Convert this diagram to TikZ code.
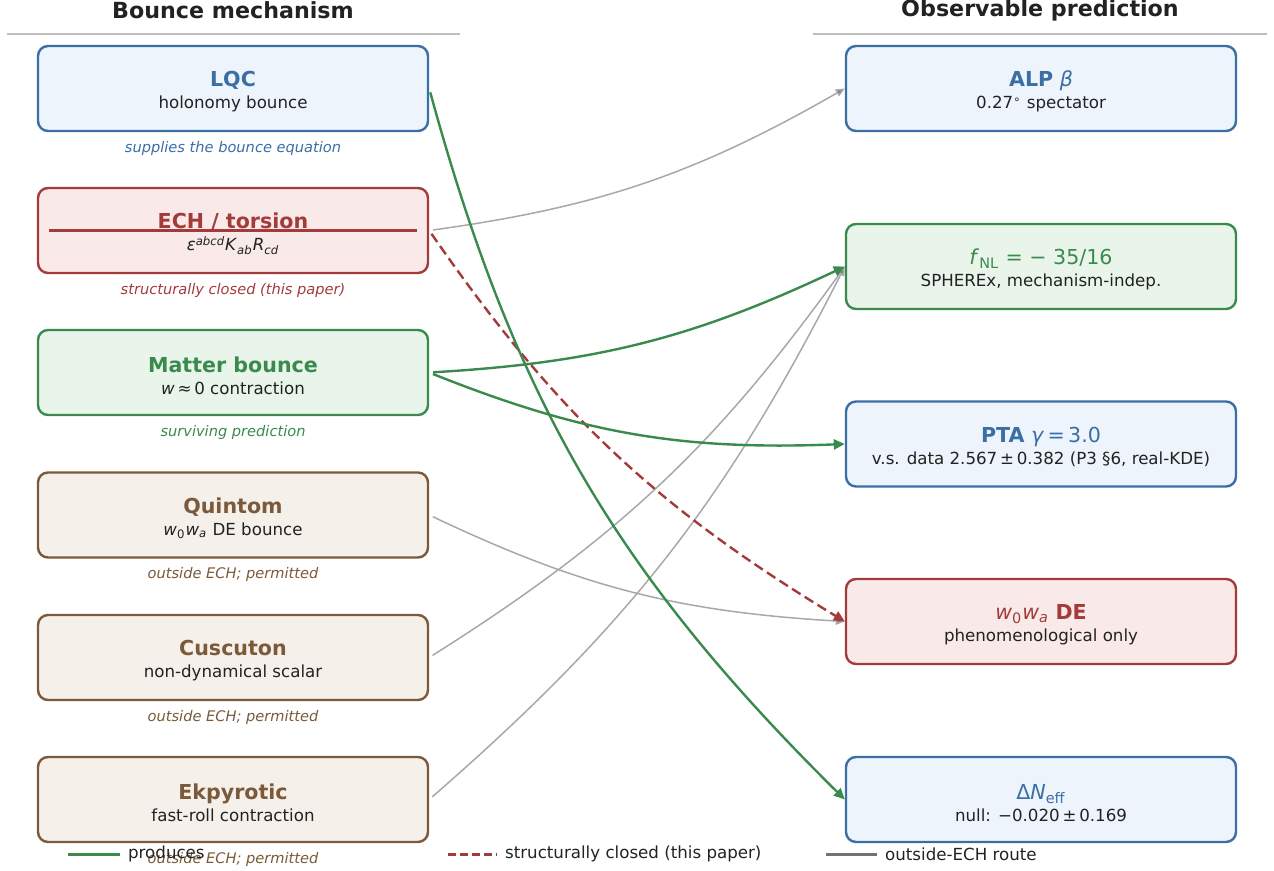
\documentclass[tikz,border=0pt]{standalone}
\usepackage{fontspec}
\setmainfont{DejaVu Sans}
\usetikzlibrary{arrows.meta,positioning}

\definecolor{ink}{HTML}{222222}
\definecolor{mblue}{HTML}{3B6EA5}\definecolor{mbluefill}{HTML}{EDF4FB}
\definecolor{mred}{HTML}{A33B3B}\definecolor{mredfill}{HTML}{F9E9E9}
\definecolor{mgreen}{HTML}{3A8A4E}\definecolor{mgreenfill}{HTML}{E9F4EA}
\definecolor{mbrown}{HTML}{7A5A3A}\definecolor{mbrownfill}{HTML}{F5F0EA}
\definecolor{route}{HTML}{A8A8A8}

\newcommand{\hfnt}{\fontsize{11.1}{13}\selectfont\bfseries}
\newcommand{\tfnt}{\fontsize{10.3}{12}\selectfont}
\newcommand{\sfnt}{\fontsize{8.33}{11}\selectfont}
\newcommand{\nfnt}{\fontsize{7.3}{9}\selectfont\itshape}
\newcommand{\boxttl}[2]{{\color{#1}\tfnt\rule{0pt}{11pt}#2}}

\tikzset{
  box/.style={draw=#1, fill=#1fill, rounded corners=5pt, line width=1.2pt,
    minimum width=195pt, minimum height=42.5pt, inner sep=0pt, align=center,
    font=\sfnt, text=ink},
  note/.style={font=\nfnt, text=#1},
  head/.style={font=\hfnt, text=ink},
  produces/.style={draw=mgreen, line width=1.2pt, -{Triangle[length=5.5pt,width=5pt]}},
  closed/.style={draw=mred, line width=1.2pt, dash pattern=on 5pt off 2.5pt, -{Triangle[length=5.5pt,width=5pt]}},
  outside/.style={draw=route, line width=0.75pt, -{Triangle[length=4.5pt,width=3.8pt,fill=gray]}},
}

\begin{document}
\begin{tikzpicture}[x=0.5pt,y=-0.5pt]
	\useasboundingbox (0,0) rectangle (1274,871);
	% column heads
		\node[head] (lhead) at (233,10) {Bounce mechanism};
		\node[head] (rhead) at (1040,10) {Observable prediction};
		\draw[color=black!25, line width=0.6pt] (7,34) -- (460,34);
		\draw[color=black!25, line width=0.6pt] (813,34) -- (1267,34);
	% bounce mechanisms
		\foreach \n/\y/\col/\ttl/\sub/\note in {
			lqc/88.5/mblue/{\textbf{LQC}}/{holonomy bounce}/{supplies the bounce equation},
			ech/230.5/mred/{\textbf{ECH / torsion}}/{\textit{ε}\textsuperscript{\textit{abcd}}\textit{K}\textsubscript{\textit{ab}}\textit{R}\textsubscript{\textit{cd}}}/{structurally closed (this paper)},
			matter/372.5/mgreen/{\textbf{Matter bounce}}/{\textit{w}\,≈\,0 contraction}/{surviving prediction},
			quintom/515/mbrown/{\textbf{Quintom}}/{\textit{w}\textsubscript{0}\textit{w}\textsubscript{\textit{a}} DE bounce}/{outside ECH; permitted},
			cuscuton/657.5/mbrown/{\textbf{Cuscuton}}/{non-dynamical scalar}/{outside ECH; permitted},
			ekpyrotic/799.5/mbrown/{\textbf{Ekpyrotic}}/{fast-roll contraction}/{outside ECH; permitted}}{
			\node[box=\col] (\n) at (233,\y) {\boxttl{\col}{\ttl}\\[0pt]\sub};
			\node[note=\col] (\n-note) at ([yshift=-8pt]\n.south) {\note};
			}
		\draw[mred, line width=1.2pt] ([xshift=6pt]ech.west) -- ([xshift=-6pt]ech.east);
	% observable predictions
		\foreach \n/\y/\col/\ttl/\sub in {
			alp/88.5/mblue/{\textbf{ALP} \textit{β}}/{0.27\textsuperscript{∘}\ spectator},
			fnl/266.5/mgreen/{\textit{f}\textsubscript{NL} = − 35/16}/{SPHEREx, mechanism-indep.},
			pta/444/mblue/{\textbf{PTA} \textit{γ}\,=\,3.0}/{v.s. data 2.567\,±\,0.382 (P3 §6, real-KDE)},
			wowa/621.5/mred/{\textit{w}\textsubscript{0}\textit{w}\textsubscript{\textit{a}} \textbf{DE}}/{phenomenological only},
			dneff/799.5/mblue/{Δ\textit{N}\textsubscript{eff}}/{null: −0.020\,±\,0.169}}{
			\node[box=\col] (\n) at (1041,\y) {\boxttl{\col}{\ttl}\\[0pt]\sub};
			}
	% routes
		\draw[outside,shorten <=2pt] (ech.east) to[bend right=11] (alp.west);
		\draw[outside,shorten <=2pt] (quintom.east) to[bend right=11] (wowa.west);
		\draw[outside,shorten <=2pt] (cuscuton.east) to[bend right=11] (fnl.west);
		\draw[outside,shorten <=2pt] (ekpyrotic.east) to[bend right=11] (fnl.west);
		\draw[closed,shorten <=2pt] (ech.east) to[bend right=12] (wowa.west);
		\draw[produces,shorten <=2pt] (lqc.east) to[bend right=15] (dneff.west);
		\draw[produces,shorten <=2pt] (matter.east) to[bend right=11] (fnl.west);
		\draw[produces,shorten <=2pt] (matter.east) to[bend right=12] (pta.west);
	% legend
		\draw[mgreen, line width=1.5pt] (68,854) -- (120,854) node[right, font=\sfnt, text=ink] (leg-prod) {produces};
		\draw[mred, line width=1.5pt, dash pattern=on 4pt off 2pt] (448,854) -- (497,854) node[right, font=\sfnt, text=ink] (leg-closed) {structurally closed (this paper)};
		\draw[black!55, line width=1.5pt] (826,854) -- (877,854) node[right, font=\sfnt, text=ink] (leg-out) {outside-ECH route};
\end{tikzpicture}
\end{document}
